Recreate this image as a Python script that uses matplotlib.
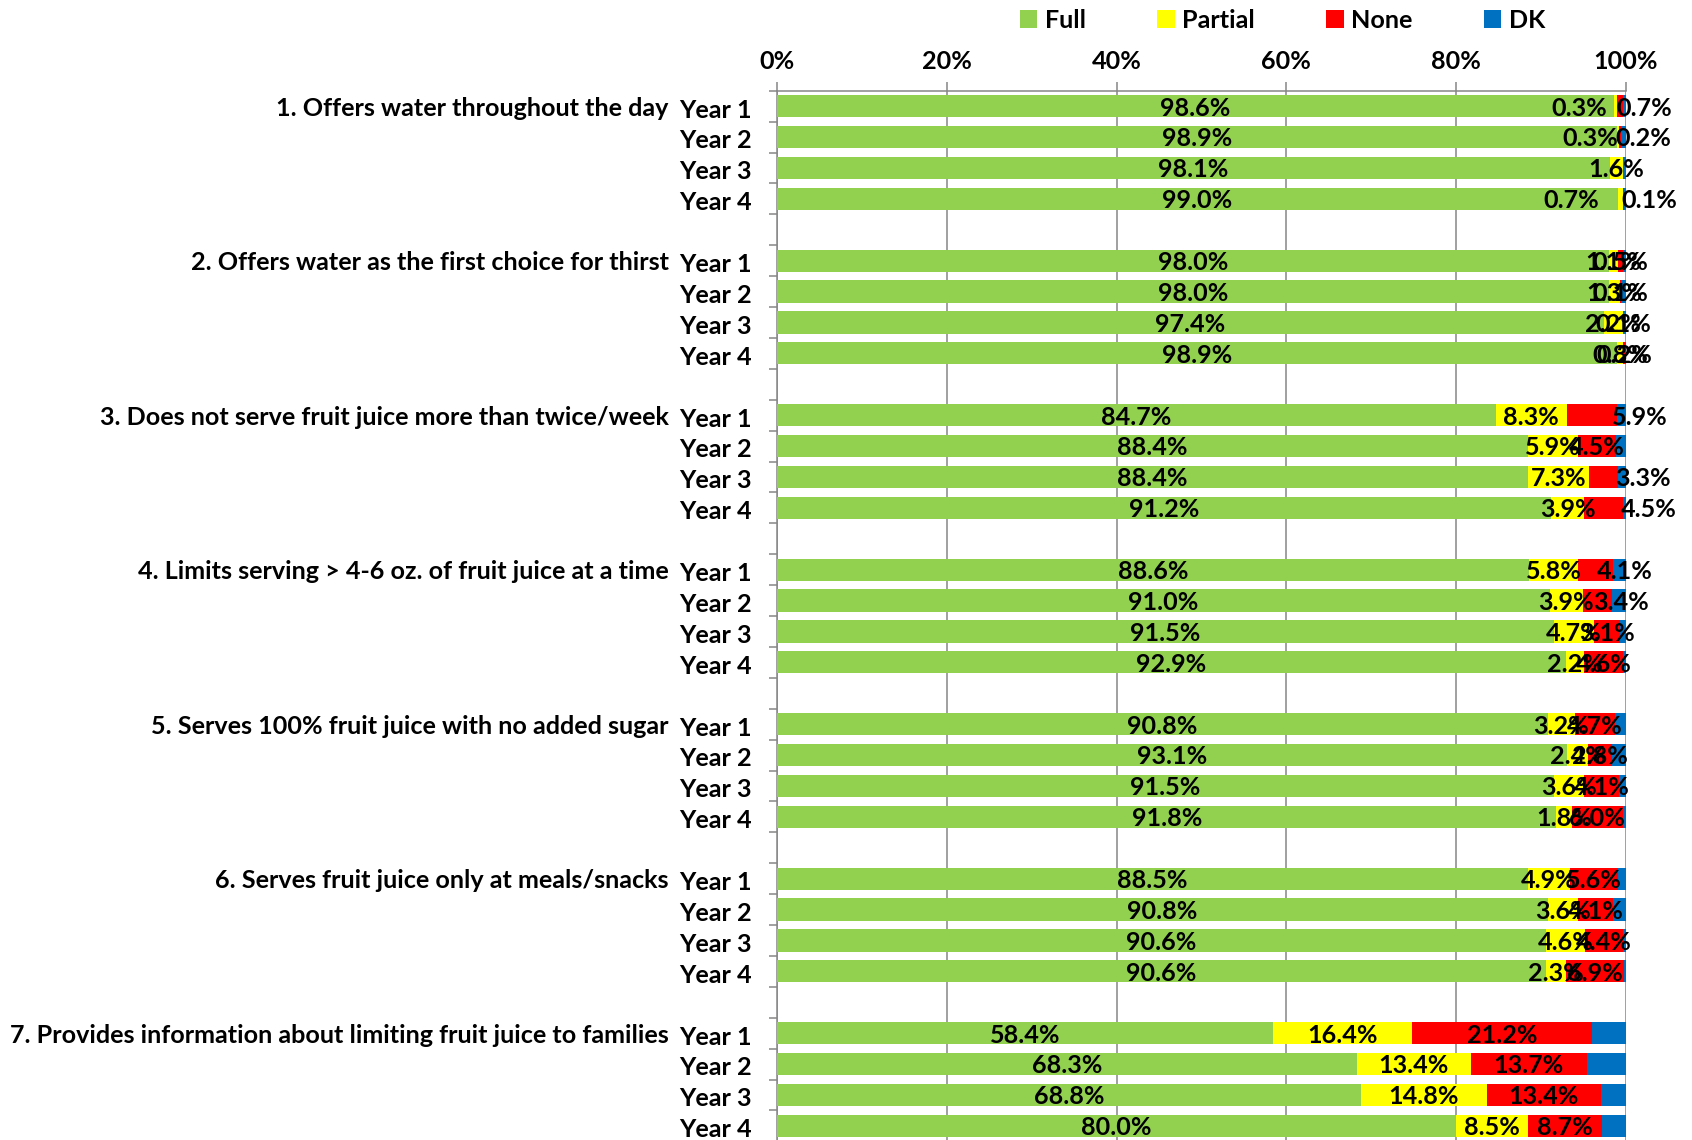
import numpy as np
import matplotlib.pyplot as plt
from matplotlib.patches import Patch
from matplotlib.ticker import FixedLocator

plt.rcParams['font.family'] = ['Lato', 'DejaVu Sans']
plt.rcParams['font.weight'] = 'bold'

# ---------------------------------------------------------
# Data (percent of sites, per practice and year)
# ---------------------------------------------------------
practices = [
    "1. Offers water throughout the day",
    "2. Offers water as the first choice for thirst",
    "3. Does not serve fruit juice more than twice/week",
    "4. Limits serving > 4-6 oz. of fruit juice at a time",
    "5. Serves 100% fruit juice with no added sugar",
    "6. Serves fruit juice only at meals/snacks",
    "7. Provides information about limiting fruit juice to families",
]
years = ["Year 1", "Year 2", "Year 3", "Year 4"]

full = [
    [98.6, 98.9, 98.1, 99.0],
    [98.0, 98.0, 97.4, 98.9],
    [84.7, 88.4, 88.4, 91.2],
    [88.6, 91.0, 91.5, 92.9],
    [90.8, 93.1, 91.5, 91.8],
    [88.5, 90.8, 90.6, 90.6],
    [58.4, 68.3, 68.8, 80.0],
]
partial = [
    [0.3, 0.3, 1.6, 0.7],
    [1.1, 1.3, 2.2, 0.8],
    [8.3, 5.9, 7.3, 3.9],
    [5.8, 3.9, 4.7, 2.2],
    [3.2, 2.4, 3.6, 1.8],
    [4.9, 3.6, 4.6, 2.3],
    [16.4, 13.4, 14.8, 8.5],
]
none = [
    [0.7, 0.2, 0.0, 0.1],
    [0.5, 0.1, 0.1, 0.2],
    [5.9, 4.5, 3.3, 4.5],
    [4.1, 3.4, 3.1, 4.6],
    [4.7, 2.8, 4.1, 6.0],
    [5.6, 4.1, 4.4, 6.9],
    [21.2, 13.7, 13.4, 8.7],
]
dk = [
    [0.4, 0.6, 0.3, 0.2],
    [0.4, 0.6, 0.3, 0.1],
    [1.1, 1.2, 1.0, 0.4],
    [1.5, 1.7, 0.7, 0.3],
    [1.3, 1.7, 0.8, 0.4],
    [1.0, 1.5, 0.4, 0.2],
    [4.0, 4.6, 3.0, 2.8],
]

series = [("Full", full, "#92D050"),
          ("Partial", partial, "#FFFF00"),
          ("None", none, "#FF0000"),
          ("DK", dk, "#0070C0")]

# hand-moved data labels (shift in percentage points), keyed by (series, practice, year)
label_shift = {
    ("Partial", 0, 0): -4.25, ("None", 0, 0): 2.95,
    ("Partial", 0, 1): -3.25, ("None", 0, 1): 2.7,
    ("Partial", 0, 3): -5.75, ("None", 0, 3): 2.95,
    ("None", 2, 0): 5.65, ("None", 2, 2): 4.65, ("None", 2, 3): 5.3,
    ("None", 3, 0): 3.45, ("None", 3, 1): 2.8,
}

FS = 18.1
GRID = "#868686"

# ---------------------------------------------------------
# Layout: 4 year rows per practice, blank row between practices
# ---------------------------------------------------------
n_groups = len(practices)
n_years = len(years)
n_rows = n_groups * (n_years + 1) - 1
row_px = 30.9
top_px = 90.7

fig = plt.figure(figsize=(16.92, 11.4), dpi=100)
ax = fig.add_axes([777 / 1692, 1 - (top_px + n_rows * row_px) / 1140,
                   849 / 1692, n_rows * row_px / 1140])

ypos = []
for g in range(n_groups):
    for y in range(n_years):
        row = g * (n_years + 1) + y
        ypos.append(row)
        left = 0.0
        for name, vals, color in series:
            v = vals[g][y]
            ax.barh(row, v, left=left, height=0.72, color=color, edgecolor="none", zorder=3)
            if name != "DK" and v > 0:
                xc = left + v / 2 + label_shift.get((name, g, y), 0.0)
                ax.text(xc, row + 0.06, f"{v:.1f}%", ha="center", va="center",
                        fontsize=FS, fontweight="bold", color="black", zorder=5)
            left += v
    ax.annotate(practices[g], xy=(0, g * (n_years + 1) + 0.06),
                xycoords=("axes fraction", "data"),
                xytext=(-78, 0), textcoords="offset points",
                ha="right", va="center", fontsize=FS, fontweight="bold")

ax.set_xlim(0, 100)
ax.set_ylim(n_rows - 0.5, -0.5)

ax.set_yticks(np.array(ypos) + 0.06)
ax.set_yticklabels(years * n_groups, fontsize=FS, fontweight="bold")
ax.yaxis.set_minor_locator(FixedLocator(np.arange(-0.5, n_rows, 1.0)))
ax.tick_params(axis="y", which="major", length=0, pad=18)
ax.tick_params(axis="y", which="minor", length=5.8, width=1.1, color=GRID, direction="out")

ax.xaxis.tick_top()
ax.set_xticks(np.arange(0, 101, 20))
ax.set_xticklabels([f"{t}%" for t in range(0, 101, 20)], fontsize=FS, fontweight="bold")
ax.tick_params(axis="x", which="major", length=6.5, width=1.1, color=GRID, pad=6)
ax.grid(axis="x", color=GRID, linewidth=1.1, zorder=0)

for side in ["right", "bottom"]:
    ax.spines[side].set_visible(False)
for side in ["left", "top"]:
    ax.spines[side].set_color(GRID)
    ax.spines[side].set_linewidth(1.1)

handles = [Patch(facecolor=c, edgecolor="none", label=n) for n, _, c in series]
fig.legend(handles=handles, loc="center", bbox_to_anchor=(0.758, 1 - 20 / 1140),
           ncol=4, frameon=False, fontsize=FS, handlelength=0.7, handleheight=0.7,
           handletextpad=0.3, columnspacing=2.83, borderpad=0)

fig.savefig("out.png", dpi=100)
